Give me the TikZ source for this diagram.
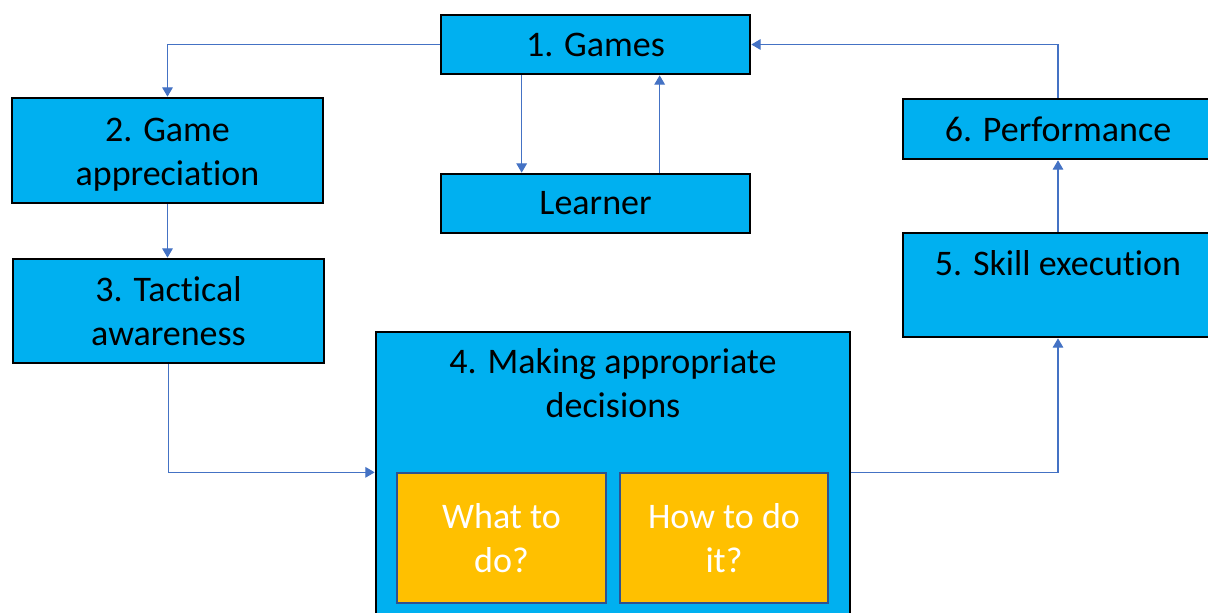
\documentclass[tikz,border=0pt]{standalone}
\usepackage{fontspec}
\setmainfont{Carlito}[Ligatures=NoCommon]
\usetikzlibrary{arrows.meta,calc}
\definecolor{boxblue}{HTML}{00B0F0}
\definecolor{boxorange}{HTML}{FFC000}
\definecolor{linkblue}{HTML}{4472C4}
\definecolor{orangeedge}{HTML}{2F528F}
\tikzset{
  sz/.style 2 args={minimum width=#1*0.75pt, minimum height=#2*0.75pt},
  bluebox/.style={draw=black, line width=2pt, fill=boxblue, inner sep=0pt, align=center,
    font=\fontsize{27pt}{33pt}\selectfont},
  orangebox/.style={draw=orangeedge, line width=1pt, fill=boxorange, inner sep=0pt, align=center,
    text=white, font=\fontsize{27pt}{33pt}\selectfont},
  plaintext/.style={inner sep=0pt, align=center, font=\fontsize{27pt}{33pt}\selectfont},
  conn/.style={draw=linkblue, line width=0.8pt, -{Triangle[width=8pt,length=7pt]}},
}
\begin{document}
\begin{tikzpicture}[x=0.75pt,y=-0.75pt]
\useasboundingbox (0,0) rectangle (1208,612);
\clip (0,0) rectangle (1208,612);
% boxes
\node[bluebox, sz={309}{59}] (g) at (595.5,44.5) {1. Games};
\node[bluebox, sz={309}{59}] (l) at (595.5,203.5) {Learner};
\node[bluebox, sz={311}{105}] (b2) at (167.5,150.5) {};
\node[plaintext, anchor=base] (t2) at (167.5,185) {2. Game\\appreciation};
\node[bluebox, sz={311}{104}] (b3) at (168.5,311) {3. Tactical\\awareness};
\node[bluebox, sz={474}{293}] (b4) at (613,478.5) {};
\node[plaintext, anchor=base] (t4) at (613,417) {4. Making appropriate\\decisions};
\node[bluebox, sz={310}{60}] (b6) at (1058,129) {6. Performance};
\node[bluebox, sz={310}{104}] (b5) at (1058,285) {};
\node[plaintext, anchor=base] (t5) at (1058,275) {5. Skill execution};
\node[orangebox, sz={209}{130}] (wt) at (501.5,538) {What to\\do?};
\node[orangebox, sz={208}{130}] (hw) at (724,538) {How to do\\it?};
% connectors
\draw[conn] (g.west) -| (b2.north);
\draw[conn] ([xshift=82*0.75pt]g.south west) -- ([xshift=82*0.75pt]l.north west);
\draw[conn] ([xshift=220*0.75pt]l.north west) -- ([xshift=220*0.75pt]g.south west);
\draw[conn] (b2.south) -- (b2.south |- b3.north);
\draw[conn] (b3.south) |- (b4.west |- wt.north);
\draw[conn] (b4.east |- wt.north) -| (b5.south);
\draw[conn] (b5.north) -- (b6.south);
\draw[conn] (b6.north) |- (g.east);
\end{tikzpicture}
\end{document}
